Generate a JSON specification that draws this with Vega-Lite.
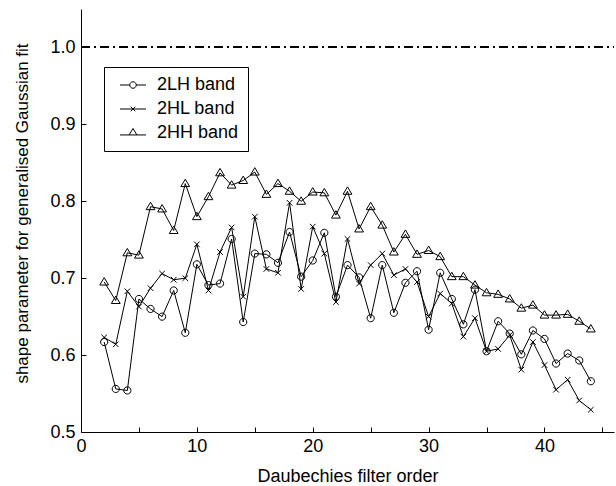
{
  "$schema": "https://vega.github.io/schema/vega-lite/v6.json",
  "width": 533,
  "height": 423,
  "autosize": {"type": "none"},
  "padding": {"left": 81, "top": 9, "right": 2, "bottom": 54},
  "background": "white",
  "config": {
    "view": {"stroke": null},
    "font": "Liberation Sans",
    "axis": {
      "grid": false,
      "domainColor": "black",
      "domainWidth": 1,
      "tickColor": "black",
      "tickWidth": 1,
      "tickSize": -5,
      "labelColor": "black",
      "titleColor": "black",
      "titleFontWeight": "normal",
      "labelFlush": false,
      "labelOverlap": false,
      "labelBound": false
    }
  },
  "data": {
    "values": [
      {"x": 2, "band": "2LH band", "v": 0.617}, {"x": 3, "band": "2LH band", "v": 0.556}, {"x": 4, "band": "2LH band", "v": 0.554}, {"x": 5, "band": "2LH band", "v": 0.673}, {"x": 6, "band": "2LH band", "v": 0.660}, {"x": 7, "band": "2LH band", "v": 0.650}, {"x": 8, "band": "2LH band", "v": 0.684}, {"x": 9, "band": "2LH band", "v": 0.629}, {"x": 10, "band": "2LH band", "v": 0.718}, {"x": 11, "band": "2LH band", "v": 0.691}, {"x": 12, "band": "2LH band", "v": 0.693}, {"x": 13, "band": "2LH band", "v": 0.751}, {"x": 14, "band": "2LH band", "v": 0.643}, {"x": 15, "band": "2LH band", "v": 0.732}, {"x": 16, "band": "2LH band", "v": 0.731}, {"x": 17, "band": "2LH band", "v": 0.720}, {"x": 18, "band": "2LH band", "v": 0.760}, {"x": 19, "band": "2LH band", "v": 0.702}, {"x": 20, "band": "2LH band", "v": 0.723}, {"x": 21, "band": "2LH band", "v": 0.759}, {"x": 22, "band": "2LH band", "v": 0.676}, {"x": 23, "band": "2LH band", "v": 0.717}, {"x": 24, "band": "2LH band", "v": 0.701}, {"x": 25, "band": "2LH band", "v": 0.648}, {"x": 26, "band": "2LH band", "v": 0.717}, {"x": 27, "band": "2LH band", "v": 0.655}, {"x": 28, "band": "2LH band", "v": 0.694}, {"x": 29, "band": "2LH band", "v": 0.709}, {"x": 30, "band": "2LH band", "v": 0.633}, {"x": 31, "band": "2LH band", "v": 0.707}, {"x": 32, "band": "2LH band", "v": 0.673}, {"x": 33, "band": "2LH band", "v": 0.640}, {"x": 34, "band": "2LH band", "v": 0.685}, {"x": 35, "band": "2LH band", "v": 0.605}, {"x": 36, "band": "2LH band", "v": 0.644}, {"x": 37, "band": "2LH band", "v": 0.628}, {"x": 38, "band": "2LH band", "v": 0.601}, {"x": 39, "band": "2LH band", "v": 0.632}, {"x": 40, "band": "2LH band", "v": 0.621}, {"x": 41, "band": "2LH band", "v": 0.589}, {"x": 42, "band": "2LH band", "v": 0.602}, {"x": 43, "band": "2LH band", "v": 0.593}, {"x": 44, "band": "2LH band", "v": 0.566},
      {"x": 2, "band": "2HL band", "v": 0.623}, {"x": 3, "band": "2HL band", "v": 0.614}, {"x": 4, "band": "2HL band", "v": 0.683}, {"x": 5, "band": "2HL band", "v": 0.663}, {"x": 6, "band": "2HL band", "v": 0.687}, {"x": 7, "band": "2HL band", "v": 0.706}, {"x": 8, "band": "2HL band", "v": 0.698}, {"x": 9, "band": "2HL band", "v": 0.700}, {"x": 10, "band": "2HL band", "v": 0.744}, {"x": 11, "band": "2HL band", "v": 0.684}, {"x": 12, "band": "2HL band", "v": 0.734}, {"x": 13, "band": "2HL band", "v": 0.766}, {"x": 14, "band": "2HL band", "v": 0.676}, {"x": 15, "band": "2HL band", "v": 0.780}, {"x": 16, "band": "2HL band", "v": 0.712}, {"x": 17, "band": "2HL band", "v": 0.707}, {"x": 18, "band": "2HL band", "v": 0.798}, {"x": 19, "band": "2HL band", "v": 0.686}, {"x": 20, "band": "2HL band", "v": 0.767}, {"x": 21, "band": "2HL band", "v": 0.732}, {"x": 22, "band": "2HL band", "v": 0.669}, {"x": 23, "band": "2HL band", "v": 0.751}, {"x": 24, "band": "2HL band", "v": 0.693}, {"x": 25, "band": "2HL band", "v": 0.717}, {"x": 26, "band": "2HL band", "v": 0.732}, {"x": 27, "band": "2HL band", "v": 0.704}, {"x": 28, "band": "2HL band", "v": 0.712}, {"x": 29, "band": "2HL band", "v": 0.695}, {"x": 30, "band": "2HL band", "v": 0.650}, {"x": 31, "band": "2HL band", "v": 0.680}, {"x": 32, "band": "2HL band", "v": 0.667}, {"x": 33, "band": "2HL band", "v": 0.624}, {"x": 34, "band": "2HL band", "v": 0.648}, {"x": 35, "band": "2HL band", "v": 0.605}, {"x": 36, "band": "2HL band", "v": 0.608}, {"x": 37, "band": "2HL band", "v": 0.626}, {"x": 38, "band": "2HL band", "v": 0.581}, {"x": 39, "band": "2HL band", "v": 0.617}, {"x": 40, "band": "2HL band", "v": 0.587}, {"x": 41, "band": "2HL band", "v": 0.555}, {"x": 42, "band": "2HL band", "v": 0.568}, {"x": 43, "band": "2HL band", "v": 0.541}, {"x": 44, "band": "2HL band", "v": 0.529},
      {"x": 2, "band": "2HH band", "v": 0.695}, {"x": 3, "band": "2HH band", "v": 0.671}, {"x": 4, "band": "2HH band", "v": 0.733}, {"x": 5, "band": "2HH band", "v": 0.730}, {"x": 6, "band": "2HH band", "v": 0.793}, {"x": 7, "band": "2HH band", "v": 0.790}, {"x": 8, "band": "2HH band", "v": 0.762}, {"x": 9, "band": "2HH band", "v": 0.823}, {"x": 10, "band": "2HH band", "v": 0.780}, {"x": 11, "band": "2HH band", "v": 0.806}, {"x": 12, "band": "2HH band", "v": 0.837}, {"x": 13, "band": "2HH band", "v": 0.821}, {"x": 14, "band": "2HH band", "v": 0.827}, {"x": 15, "band": "2HH band", "v": 0.838}, {"x": 16, "band": "2HH band", "v": 0.809}, {"x": 17, "band": "2HH band", "v": 0.823}, {"x": 18, "band": "2HH band", "v": 0.813}, {"x": 19, "band": "2HH band", "v": 0.800}, {"x": 20, "band": "2HH band", "v": 0.812}, {"x": 21, "band": "2HH band", "v": 0.811}, {"x": 22, "band": "2HH band", "v": 0.782}, {"x": 23, "band": "2HH band", "v": 0.813}, {"x": 24, "band": "2HH band", "v": 0.764}, {"x": 25, "band": "2HH band", "v": 0.793}, {"x": 26, "band": "2HH band", "v": 0.769}, {"x": 27, "band": "2HH band", "v": 0.734}, {"x": 28, "band": "2HH band", "v": 0.757}, {"x": 29, "band": "2HH band", "v": 0.731}, {"x": 30, "band": "2HH band", "v": 0.736}, {"x": 31, "band": "2HH band", "v": 0.728}, {"x": 32, "band": "2HH band", "v": 0.702}, {"x": 33, "band": "2HH band", "v": 0.702}, {"x": 34, "band": "2HH band", "v": 0.691}, {"x": 35, "band": "2HH band", "v": 0.681}, {"x": 36, "band": "2HH band", "v": 0.679}, {"x": 37, "band": "2HH band", "v": 0.673}, {"x": 38, "band": "2HH band", "v": 0.661}, {"x": 39, "band": "2HH band", "v": 0.665}, {"x": 40, "band": "2HH band", "v": 0.652}, {"x": 41, "band": "2HH band", "v": 0.652}, {"x": 42, "band": "2HH band", "v": 0.653}, {"x": 43, "band": "2HH band", "v": 0.644}, {"x": 44, "band": "2HH band", "v": 0.634}
    ]
  },
  "encoding": {
    "x": {
      "field": "x", "type": "quantitative",
      "scale": {"domain": [0, 46], "nice": false, "zero": false},
      "axis": {
        "title": "Daubechies filter order",
        "values": [0, 5, 10, 15, 20, 25, 30, 35, 40, 45],
        "labelExpr": "datum.value % 10 === 0 ? datum.label : ''",
        "labelFontSize": 18,
        "titleFontSize": 18,
        "labelPadding": 10,
        "titlePadding": 12
      }
    },
    "y": {
      "field": "v", "type": "quantitative",
      "scale": {"domain": [0.5, 1.05], "nice": false, "zero": false},
      "axis": {
        "title": "shape parameter for generalised Gaussian fit",
        "values": [0.5, 0.6, 0.7, 0.8, 0.9, 1.0],
        "format": ".1f",
        "labelFontSize": 18,
        "titleFontSize": 17,
        "labelPadding": 11,
        "titlePadding": 18,
        "titleY": 204
      }
    }
  },
  "layer": [
    {
      "mark": {"type": "rule", "color": "black", "strokeWidth": 1, "strokeDash": [9, 4, 2, 4]},
      "encoding": {"y": {"datum": 1}, "x": {"value": 0}, "x2": {"value": 533}}
    },
    {
      "mark": {"type": "line", "color": "black", "strokeWidth": 1},
      "encoding": {"detail": {"field": "band"}}
    },
    {
      "mark": {"type": "point", "filled": false, "color": "black", "strokeWidth": 1, "size": 64, "opacity": 1},
      "encoding": {
        "shape": {
          "field": "band", "type": "nominal",
          "scale": {
            "domain": ["2LH band", "2HL band", "2HH band"],
            "range": [
              "M-0.9,0A0.9,0.9 0 1,0 0.9,0A0.9,0.9 0 1,0 -0.9,0Z",
              "M-0.7,-0.7L0.7,0.7M-0.7,0.7L0.7,-0.7",
              "M-1.1,0.75L1.1,0.75L0,-1.1Z"
            ]
          },
          "legend": null
        }
      }
    },
    {
      "mark": {"type": "point", "filled": false, "color": "black", "strokeWidth": 1, "size": 64, "opacity": 0},
      "encoding": {
        "shape": {
          "field": "band", "type": "nominal",
          "scale": {
            "domain": ["2LH band", "2HL band", "2HH band"],
            "range": [
              "M-2,0H-0.5M0.5,0H2M-0.5,0A0.5,0.5 0 1,0 0.5,0A0.5,0.5 0 1,0 -0.5,0Z",
              "M-2,0H2M-0.35,-0.35L0.35,0.35M-0.35,0.35L0.35,-0.35",
              "M-2,0.3H2M-0.6,0.3L0,-0.7L0.6,0.3"
            ]
          },
          "legend": {
            "orient": "none",
            "legendX": 23,
            "legendY": 58,
            "title": null,
            "strokeColor": "black",
            "fillColor": "white",
            "padding": 9,
            "labelFontSize": 18,
            "labelColor": "black",
            "labelFont": "Liberation Sans",
            "symbolSize": 169,
            "symbolStrokeWidth": 1,
            "symbolStrokeColor": "black",
            "symbolFillColor": "transparent",
            "symbolOpacity": 1,
            "symbolOffset": 11,
            "labelOffset": 15,
            "rowPadding": 6
          }
        }
      }
    }
  ],
  "resolve": {"scale": {"shape": "independent"}, "legend": {"shape": "independent"}}
}
